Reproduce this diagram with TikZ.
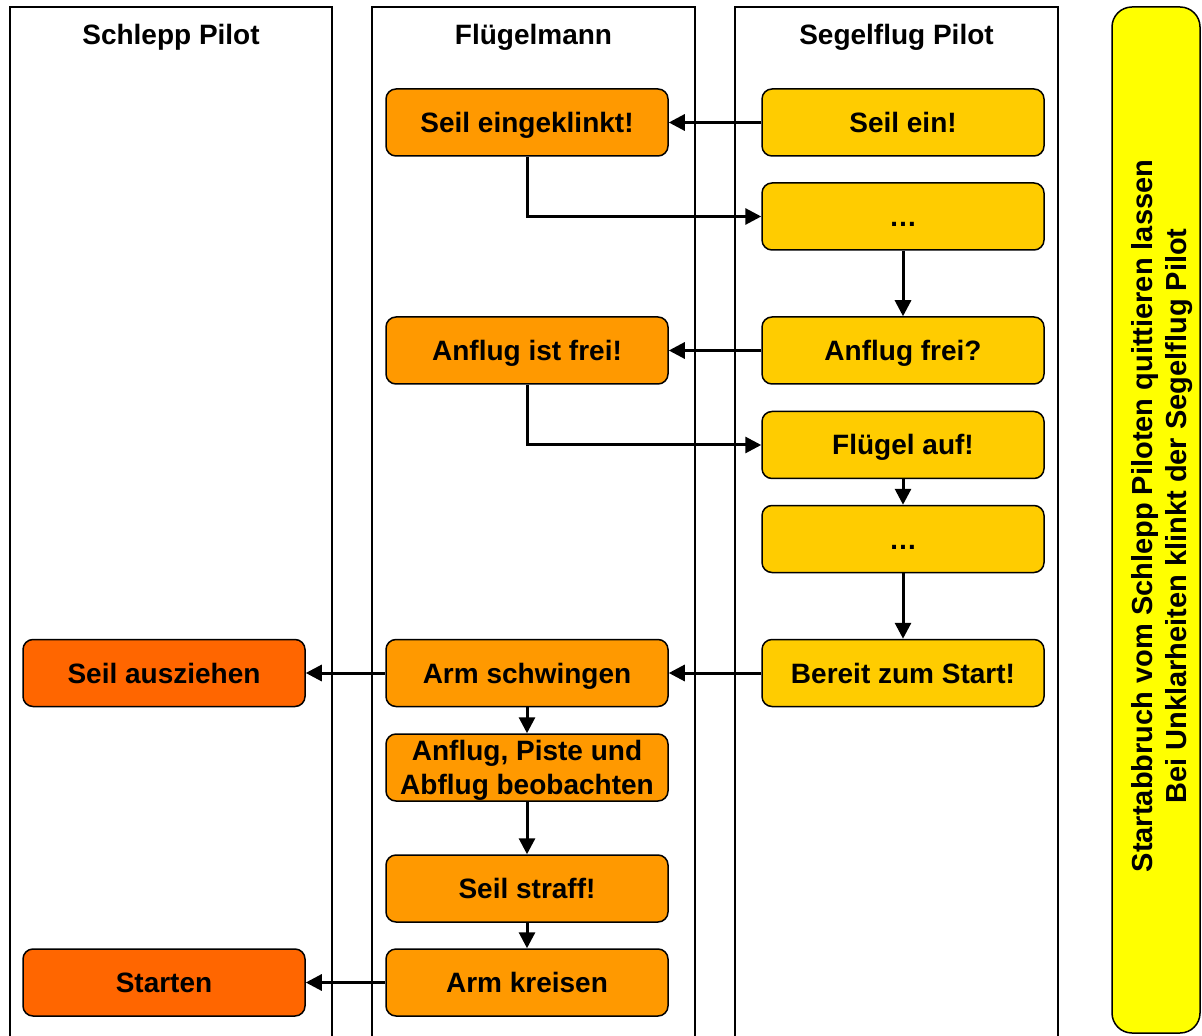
\documentclass[tikz,border=0pt]{standalone}
\usepackage{fontspec}
\setmainfont{Liberation Sans}
\usepackage{tikz}
\usetikzlibrary{arrows.meta, positioning}
\definecolor{wingorange}{HTML}{FF9900}
\definecolor{glideryellow}{HTML}{FFCC00}
\definecolor{towred}{HTML}{FF6600}
\definecolor{noteyellow}{HTML}{FFFF00}

\begin{document}
\begin{tikzpicture}[x=0.5pt, y=-0.5pt, >={Triangle[length=8pt, width=8pt]},
                    lane/.style={draw, line width=0.75pt},
                    title/.style={anchor=base, font=\bfseries\fontsize{14}{17}\selectfont},
                    task/.style={draw, line width=0.75pt, rounded corners=5pt, minimum width=141pt, minimum height=33.5pt,
                                 inner sep=1pt, align=center, text height=10pt, text depth=0pt, font=\bfseries\fontsize{14}{17}\selectfont},
                    flow/.style={->, line width=1.5pt}]

                      \useasboundingbox (0,0) rectangle (1202,1036);

                      % lanes
                      \draw[lane] (10,1040) -- (10,7) -- (332,7) -- (332,1040);
                      \draw[lane] (372,1040) -- (372,7) -- (695,7) -- (695,1040);
                      \draw[lane] (735,1040) -- (735,7) -- (1058,7) -- (1058,1040);
                      \node[title] (schlepp) at (171,45) {Schlepp Pilot};
                      \node[title] (fluegelmann) at (533.5,45) {Flügelmann};
                      \node[title] (segelflug) at (896.5,45) {Segelflug Pilot};

                      %segelflug pilot
                      \node[task, fill=glideryellow] (seilein) at (903,122.5) {Seil ein!};
                      \node[task, fill=glideryellow] (dotsa) at (903,216.5) {\dots};
                      \node[task, fill=glideryellow] (anflugfrei) at (903,350.5) {Anflug frei?};
                      \node[task, fill=glideryellow] (fluegelauf) at (903,445) {Flügel auf!};
                      \node[task, fill=glideryellow] (dotsb) at (903,539) {\dots};
                      \node[task, fill=glideryellow] (bereit) at (903,673) {Bereit zum Start!};

                      %fluegelmann
                      \node[task, fill=wingorange] (eingeklinkt) at (527,122.5) {Seil eingeklinkt!};
                      \node[task, fill=wingorange] (istfrei) at (527,350.5) {Anflug ist frei!};
                      \node[task, fill=wingorange] (schwingen) at (527,673) {Arm schwingen};
                      \node[task, fill=wingorange, text height={}] (beobachten) at (527,767.5) {Anflug, Piste und\\Abflug beobachten};
                      \node[task, fill=wingorange] (straff) at (527,888.5) {Seil straff!};
                      \node[task, fill=wingorange] (kreisen) at (527,982.5) {Arm kreisen};

                      %schlepp pilot
                      \node[task, fill=towred] (ausziehen) at (164,673) {Seil ausziehen};
                      \node[task, fill=towred] (starten) at (164,982.5) {Starten};

                      %note
                      \node[draw, line width=0.75pt, fill=noteyellow, rounded corners=10pt, rotate=90, minimum width=513pt, minimum height=44pt] (hinweis) at (1156,520) {};
                      \node[rotate=90, align=center, font=\bfseries\fontsize{14.5}{17}\selectfont] (hinweistext) at (1162,516)
                            {Startabbruch vom Schlepp Piloten quittieren lassen\\Bei Unklarheiten klinkt der Segelflug Pilot};

                      %flow
                      \draw[flow] (seilein.west) -- (eingeklinkt.east);
                      \draw[flow] (eingeklinkt.south) |- (dotsa.west);
                      \draw[flow] (dotsa) -- (anflugfrei);
                      \draw[flow] (anflugfrei.west) -- (istfrei.east);
                      \draw[flow] (istfrei.south) |- (fluegelauf.west);
                      \draw[flow] (fluegelauf) -- (dotsb);
                      \draw[flow] (dotsb) -- (bereit);
                      \draw[flow] (bereit.west) -- (schwingen.east);
                      \draw[flow] (schwingen.west) -- (ausziehen.east);
                      \draw[flow] (schwingen) -- (beobachten);
                      \draw[flow] (beobachten) -- (straff);
                      \draw[flow] (straff) -- (kreisen);
                      \draw[flow] (kreisen.west) -- (starten.east);

                    \end{tikzpicture}
\end{document}
